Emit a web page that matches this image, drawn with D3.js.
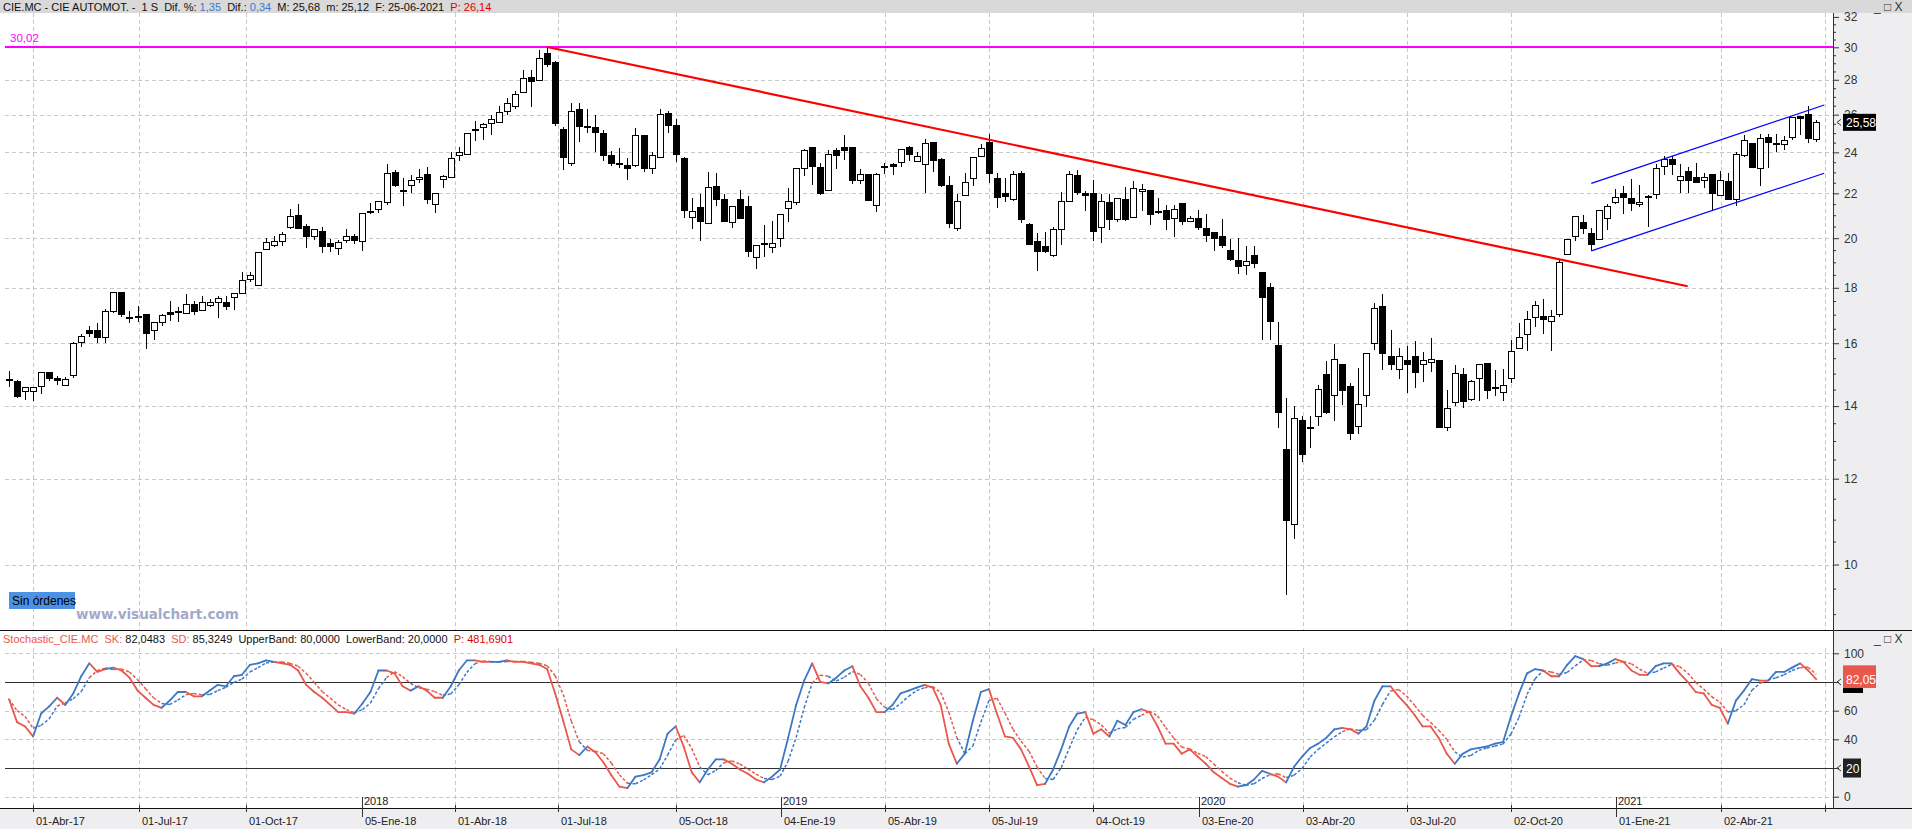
<!DOCTYPE html>
<html>
<head>
<meta charset="utf-8">
<script src="https://cdn.jsdelivr.net/npm/d3@7"></script>
<style>
  html, body { margin: 0; padding: 0; background: #fff; overflow: hidden; }
  svg { display: block; font-family: "Liberation Sans", Arial, sans-serif; }
</style>
</head>
<body>
<svg id="chart"></svg>
<script>
// weekly candles CIE.MC, 03-Mar-2017 .. 25-Jun-2021
var opens = [14.82,14.74,14.43,14.43,14.61,15.02,14.84,14.64,14.95,16.04,16.43,16.43,16.21,17.13,17.82,16.89,16.94,16.99,16.43,16.71,
  17.07,17.10,17.04,17.39,17.17,17.35,17.43,17.43,17.64,17.79,18.33,18.08,19.52,19.68,19.85,20.46,21.00,20.50,20.07,20.29,
  19.78,19.56,19.89,20.06,19.85,21.13,21.25,21.56,22.98,22.12,22.36,22.66,22.89,21.47,22.64,22.74,23.84,23.87,25.22,25.29,
  25.53,25.59,26.19,26.48,27.26,28.14,27.98,29.58,29.06,25.20,23.46,26.30,25.35,25.32,24.99,23.85,23.43,23.33,23.33,24.86,
  23.17,23.76,26.08,25.42,23.67,20.89,21.35,20.62,22.31,21.70,20.67,21.70,21.39,19.19,19.78,19.60,19.99,21.29,21.56,23.17,
  24.23,23.22,22.13,24.07,24.23,24.23,22.59,22.89,21.42,23.28,23.37,23.51,24.27,23.56,23.41,24.49,23.63,22.39,20.40,21.91,
  22.68,23.79,24.49,22.70,21.97,21.73,22.94,20.59,19.85,19.65,19.26,20.36,21.64,22.85,21.97,21.97,20.45,21.57,20.80,21.70,
  20.89,22.10,22.15,21.17,21.22,20.84,21.53,20.71,20.86,20.41,20.24,20.06,19.49,19.08,18.87,19.28,18.59,18.03,15.92,12.76,
  10.89,13.59,13.39,13.70,14.96,14.32,15.28,14.58,13.42,14.32,16.00,17.31,15.57,15.14,15.44,15.57,15.30,15.36,15.44,13.39,
  14.10,14.96,14.19,14.86,15.32,14.55,14.41,14.86,15.81,16.29,16.89,16.93,16.75,16.99,19.31,20.07,20.67,20.22,19.96,20.84,
  21.56,22.00,21.78,21.47,21.83,21.96,23.27,23.66,22.59,23.02,22.73,22.59,22.88,21.91,22.54,21.73,23.85,24.43,23.17,24.76,
  24.45,24.41,24.76,25.89,26.00,24.65];
var highs = [15.08,14.81,14.57,14.56,15.03,15.06,14.91,14.90,16.03,16.30,16.61,16.71,17.21,17.85,17.85,17.15,17.30,17.03,16.71,17.01,
  17.51,17.29,17.76,17.49,17.69,17.57,17.70,17.70,17.79,18.62,18.62,19.42,20.01,20.08,20.25,21.26,21.49,20.60,20.37,20.50,
  19.97,19.92,20.38,20.16,21.12,21.56,21.66,23.39,23.13,22.74,22.85,23.18,23.25,21.98,22.85,24.03,24.25,24.97,25.64,25.55,
  25.98,26.48,26.93,27.33,28.56,28.56,29.80,30.02,29.16,25.33,26.65,26.65,26.30,26.00,25.15,24.09,24.20,23.71,25.30,24.87,
  24.00,26.34,26.21,25.75,23.76,21.79,21.97,23.04,22.98,21.96,21.39,22.15,21.88,19.69,20.55,20.76,21.02,22.26,23.19,24.16,
  24.23,23.46,24.11,24.20,24.88,24.23,23.19,22.89,22.98,23.46,23.46,24.16,24.34,24.03,24.67,24.49,23.71,22.83,21.97,22.98,
  23.76,24.45,24.97,22.98,22.75,23.07,23.07,20.67,20.22,20.27,20.49,22.05,23.06,23.10,22.13,22.65,21.97,21.97,21.78,22.29,
  22.60,22.44,22.15,21.78,21.48,21.48,21.53,20.98,21.22,21.04,20.24,20.84,19.96,20.00,19.69,19.65,18.59,18.18,16.75,14.25,
  13.99,13.70,13.70,14.65,15.42,15.98,15.28,14.69,15.18,15.66,17.44,17.76,16.44,15.85,15.91,16.08,15.72,16.18,15.44,14.50,
  15.28,15.18,14.79,15.28,15.32,15.13,15.15,16.10,16.72,17.13,17.49,17.59,17.17,19.12,19.96,20.93,20.99,20.44,21.20,21.51,
  22.20,22.36,22.70,22.39,21.93,23.41,23.79,23.79,23.41,23.27,23.46,22.98,22.88,23.09,22.99,24.00,24.92,24.43,24.94,24.94,
  24.94,24.86,25.89,25.89,26.46,25.69];
var lows = [14.58,14.23,14.19,14.16,14.35,14.76,14.63,14.64,14.87,15.86,16.20,16.02,16.02,17.05,16.93,16.71,16.74,15.81,16.10,16.60,
  16.77,16.74,17.03,16.99,17.13,17.28,16.89,17.16,17.16,17.79,18.23,18.07,19.52,19.64,19.67,20.38,20.41,19.59,19.93,19.36,
  19.42,19.30,19.81,19.77,19.47,21.07,21.12,21.44,22.30,21.41,22.00,22.49,21.49,21.09,22.25,22.71,23.56,23.87,24.56,24.65,
  24.92,25.59,26.00,26.32,27.26,26.44,27.98,28.76,25.39,23.14,23.33,24.52,25.03,24.04,23.54,23.33,23.22,22.62,23.27,23.01,
  22.91,23.76,24.99,23.50,20.86,20.39,19.90,20.62,21.41,20.74,20.43,20.87,19.22,18.74,19.22,19.39,19.64,20.70,21.45,22.81,
  22.41,21.94,22.13,23.19,23.63,22.42,22.42,21.67,21.14,22.91,22.85,23.27,23.54,23.56,22.03,23.01,22.32,20.44,20.30,21.91,
  22.33,23.74,22.49,21.32,21.60,21.63,20.67,19.70,18.65,19.39,19.22,19.70,21.64,21.93,21.19,19.86,19.80,20.37,20.71,20.74,
  20.89,21.19,20.56,21.07,20.34,20.03,20.56,20.71,20.34,19.82,19.46,19.59,19.05,18.55,18.49,18.77,16.10,16.12,13.36,9.37,
  10.55,12.43,12.80,13.41,13.78,13.55,14.04,13.02,13.19,13.96,15.77,15.10,15.13,14.82,14.41,14.56,14.74,15.04,13.38,13.27,
  13.99,13.93,14.16,14.15,14.21,14.31,14.16,14.69,15.81,15.74,16.57,16.30,15.75,16.93,19.31,19.86,20.19,19.46,19.96,20.37,
  21.51,21.04,21.21,21.36,20.49,21.73,22.89,22.89,22.03,22.03,22.49,22.24,21.23,21.91,21.73,21.41,23.74,23.22,22.36,23.22,
  24.04,24.11,24.65,24.88,24.49,24.54];
var closes = [14.80,14.29,14.57,14.55,15.02,14.86,14.77,14.80,16.00,16.24,16.35,16.20,17.10,17.81,17.00,16.85,16.92,16.32,16.71,16.98,
  17.01,17.08,17.39,17.13,17.43,17.43,17.61,17.31,17.79,18.27,18.48,19.40,19.81,19.85,20.15,20.94,20.43,20.09,20.37,19.67,
  19.63,19.81,20.09,19.89,21.07,21.15,21.60,22.95,22.39,22.08,22.62,22.74,21.69,21.98,22.82,23.67,24.00,24.97,25.13,25.46,
  25.75,26.13,26.65,27.14,28.06,27.87,29.32,28.94,25.52,23.74,26.19,25.33,25.33,25.01,23.84,23.45,23.41,23.20,24.86,23.17,
  23.85,26.02,25.39,23.89,21.23,21.16,20.70,22.29,21.72,20.74,21.39,20.87,19.46,19.69,19.76,19.76,21.02,21.64,23.19,24.07,
  23.30,21.97,23.90,23.84,24.08,22.62,22.88,21.67,22.89,23.26,23.30,24.16,23.89,23.80,24.43,23.61,22.37,20.65,21.64,22.49,
  23.76,24.22,22.93,21.82,21.85,22.88,20.79,19.74,19.46,19.46,20.36,21.64,22.89,22.03,21.91,20.30,21.64,20.79,21.78,20.83,
  22.24,22.20,21.05,21.15,20.83,21.24,20.74,20.84,20.47,20.13,19.99,19.70,19.12,18.85,19.03,18.97,17.64,16.74,13.80,10.98,
  13.65,12.62,13.37,14.51,13.80,15.47,14.47,13.22,14.06,15.66,17.23,15.65,15.29,15.57,15.29,15.05,15.43,15.46,13.38,13.94,
  15.00,14.15,14.74,15.28,14.48,14.53,14.64,15.71,16.18,16.83,17.33,16.83,16.95,18.99,19.96,20.93,20.40,19.72,21.20,21.38,
  21.82,21.82,21.51,21.56,21.81,23.17,23.63,23.37,22.78,22.62,22.52,22.73,22.00,22.63,21.73,23.90,24.59,23.22,24.70,24.49,
  24.38,24.59,25.84,25.78,24.74,25.58];

// stochastic: SK solid, SD dashed
var skValues = [68,52,49,42,58,63,69,64,72,84,93,87,89,90,88,83,74,69,64,62,
  67,73,73,70,70,74,78,77,84,85,92,93,95,94,93,92,88,78,73,69,
  64,59,59,58,65,73,88,88,86,77,74,77,74,69,69,77,88,95,95,94,
  94,94,95,94,94,93,92,89,72,53,33,29,35,31,24,15,7,6,14,15,
  17,26,44,49,35,17,10,19,26,26,23,19,16,12,10,14,19,41,64,81,
  93,80,79,83,88,91,77,69,59,59,64,72,74,76,78,76,64,37,23,30,
  53,73,75,58,42,41,33,21,8,9,19,33,49,58,59,44,47,42,53,50,
  59,61,59,49,37,37,30,33,28,23,17,13,9,7,8,12,18,16,14,10,
  21,28,34,37,41,47,48,47,44,49,67,77,77,70,64,57,49,49,41,30,
  23,30,33,34,35,37,38,56,72,86,89,88,84,84,92,98,96,91,91,93,
  96,94,88,85,85,91,93,93,86,80,73,72,64,62,51,67,74,82,81,81,
  87,87,90,93,88,82.0483];
var sdValues = [68,60,56,47.7,49.7,54.3,63.3,65.3,68.3,73.3,83,88,89.7,88.7,89,87,81.7,75.3,69,65,
  64.3,67.3,71,72,71,71.3,74,76.3,79.7,82,87,90,93.3,94,94,93,91,86,79.7,73.3,
  68.7,64,60.7,58.7,60.7,65.3,75.3,83,87.3,83.7,79,76,75,73.3,70.7,71.7,78,86.7,92.7,94.7,
  94.3,94,94.3,94.3,94.3,93.7,93,91.3,84.3,71.3,52.7,38.3,32.3,31.7,30,23.3,15.3,9.3,9,11.7,
  15.3,19.3,29,39.7,42.7,33.7,20.7,15.3,18.3,23.7,25,22.7,19.3,15.7,12.7,12,14.3,24.7,41.3,62,
  79.3,84.7,84,80.7,83.3,87.3,85.3,79,68.3,62.3,60.7,65,70,74,76,76.7,72.7,59,41.3,30,
  35.3,52,67,68.7,58.3,47,38.7,31.7,20.7,12.7,12,20.3,33.7,46.7,55.3,53.7,50,44.3,47.3,48.3,
  54,56.7,59.7,56.3,48.3,41,34.7,33.3,30.3,28,22.7,17.7,13,9.7,8,9,12.7,15.3,16,13.3,
  15,19.7,27.7,33,37.3,41.7,45.3,47.3,46.3,46.7,53.3,64.3,73.7,74.7,70.3,63.7,56.7,51.7,46.3,40,
  31.3,27.7,28.7,32.3,34,35.3,36.7,43.7,55.3,71.3,82.3,87.7,87,85.3,86.7,91.3,95.3,95,92.7,91.7,
  93.3,94.3,92.7,89,86,87,89.7,92.3,90.7,86.3,79.7,75,69.7,66,59,60,64,74.3,79,81.3,
  83,85,88,90,90.3,85.3249];

var priceTicks = [10,12,14,16,18,20,22,24,26,28,30,32];
var stochTicks = [0,20,40,60,80,100];
var dateLabels = ["01-Abr-17","01-Jul-17","01-Oct-17","05-Ene-18","01-Abr-18","01-Jul-18","05-Oct-18","04-Ene-19","05-Abr-19",
  "05-Jul-19","04-Oct-19","03-Ene-20","03-Abr-20","03-Jul-20","02-Oct-20","01-Ene-21","02-Abr-21",""];
var dateIdx = [2.93,16.19,29.46,43.95,55.47,68.34,83.1,96.09,109.1,122,135,148.1,161.1,174,187,200.1,213.1,226.1];
var yearLabels = ["2018","2019","2020","2021"];
var yearIdx = [43.95,96.09,148.1,200.1];

// drawn studies: [bar index, price]
var maxLevel = 30.02;
var trendLine = [[67, 30.02], [209, 18.06]];
var channelTop = [[197, 22.47], [226, 26.54]];
var channelBottom = [[197, 19.47], [226, 22.96]];
var lastClose = 25.58;

var Chart = (function(){
  var width = 1912,
      height = 829,
      axisX = 1833,
      svg,
      x, yP, yS
    ;

  function fmt(v, n){
    return v.toFixed(n).replace('.', ',');
  }

  function hLines(g, scale, values, x0, x1, cls){
    g.selectAll('line.' + cls)
      .data(values)
      .enter()
        .append('line')
        .attr('class', cls)
        .attr('x1', x0).attr('x2', x1)
        .attr('y1', function(d){ return Math.round(scale(d)) + 0.5; })
        .attr('y2', function(d){ return Math.round(scale(d)) + 0.5; });
  }

  // little "<" marker just right of the axis line
  function arrow(g, yy){
    g.append('path')
      .attr('d', 'M' + (axisX + 8) + ',' + (yy - 3) + 'L' + (axisX + 4) + ',' + yy + 'L' + (axisX + 8) + ',' + (yy + 3))
      .attr('stroke', '#333').attr('fill', 'none');
  }

  function label(g, xx, yy, w, h, bg, txt){
    g.append('rect')
      .attr('x', xx).attr('y', yy - h / 2)
      .attr('width', w).attr('height', h)
      .attr('fill', bg);
    if (txt) {
      g.append('text')
        .attr('x', xx + 3).attr('y', yy + 4.5)
        .attr('fill', '#fff')
        .attr('font-size', 12)
        .text(txt);
    }
  }

  return {
    initialize: function(_canvas){
      svg = d3.select(_canvas);
      svg.attr('width', width).attr('height', height);

      x = d3.scaleLinear().domain([0, 225]).range([9, 9 + 225 * 8.032]);
      yP = d3.scaleLog().domain([10, 30]).range([564.5, 47.3]);
      yS = d3.scaleLinear().domain([0, 100]).range([796.7, 653.3]);
    },
    frame: function(){
      // backgrounds
      svg.append('rect').attr('width', width).attr('height', height).attr('fill', '#fff');
      svg.append('rect').attr('x', axisX).attr('y', 0).attr('width', width - axisX).attr('height', height).attr('fill', '#eeeef1');
      svg.append('rect').attr('x', 0).attr('y', 809).attr('width', width).attr('height', 20).attr('fill', '#eeeef1');
      svg.append('rect').attr('x', 0).attr('y', 0).attr('width', width).attr('height', 13).attr('fill', '#d9d9d9');

      var grid = svg.append('g')
        .attr('stroke', '#c8c8c8')
        .attr('stroke-dasharray', '4,3')
        .attr('shape-rendering', 'crispEdges');

      hLines(grid, yP, priceTicks.filter(function(d){ return d < 32; }), 5, axisX, 'pg');
      hLines(grid, yS, [0, 40, 60, 100], 5, axisX, 'sg');

      var vIdx = dateIdx.filter(function(d){ return yearIdx.indexOf(d) < 0; });
      [[13, 630], [648, 808]].forEach(function(r){
        grid.append('g').selectAll('line')
          .data(vIdx)
          .enter()
            .append('line')
            .attr('x1', function(d){ return Math.round(x(d)) + 0.5; })
            .attr('x2', function(d){ return Math.round(x(d)) + 0.5; })
            .attr('y1', r[0]).attr('y2', r[1]);
      });

      // stochastic bands
      var bands = svg.append('g').attr('stroke', '#303030').attr('stroke-width', 1.2);
      hLines(bands, yS, [20, 80], 5, axisX, 'band');

      // panel separators
      svg.append('g').attr('stroke', '#111').attr('shape-rendering', 'crispEdges')
        .selectAll('line')
        .data([630.5, 808.5])
        .enter()
          .append('line')
          .attr('x1', 0).attr('x2', width)
          .attr('y1', function(d){ return d; }).attr('y2', function(d){ return d; });
    },
    candles: function(){
      var g = svg.append('g').attr('shape-rendering', 'crispEdges');
      var idx = d3.range(closes.length);

      g.selectAll('line.wick')
        .data(idx)
        .enter()
          .append('line')
          .attr('class', 'wick')
          .attr('stroke', '#000')
          .attr('x1', function(i){ return Math.round(x(i)) + 0.5; })
          .attr('x2', function(i){ return Math.round(x(i)) + 0.5; })
          .attr('y1', function(i){ return yP(highs[i]); })
          .attr('y2', function(i){ return yP(lows[i]); });

      g.selectAll('rect.body')
        .data(idx)
        .enter()
          .append('rect')
          .attr('class', 'body')
          .attr('x', function(i){ return Math.round(x(i)) - 2.5; })
          .attr('width', 6)
          .attr('y', function(i){ return yP(Math.max(opens[i], closes[i])); })
          .attr('height', function(i){
            return Math.max(1, yP(Math.min(opens[i], closes[i])) - yP(Math.max(opens[i], closes[i])));
          })
          .attr('fill', function(i){ return closes[i] >= opens[i] ? '#fff' : '#000'; })
          .attr('stroke', '#000')
          .attr('stroke-width', 1);
    },
    studies: function(){
      svg.append('line')
        .attr('x1', 5).attr('x2', axisX)
        .attr('y1', yP(maxLevel)).attr('y2', yP(maxLevel))
        .attr('stroke', '#ff00ff').attr('stroke-width', 2);
      svg.append('text')
        .attr('x', 10).attr('y', yP(maxLevel) - 5)
        .attr('fill', '#ff00ff').attr('font-size', 11.5)
        .text(fmt(maxLevel, 2));

      var line = d3.line()
        .x(function(d){ return x(d[0]); })
        .y(function(d){ return yP(d[1]); });

      svg.append('path').attr('d', line(trendLine))
        .attr('stroke', '#ff0000').attr('stroke-width', 2.2).attr('fill', 'none');
      [channelTop, channelBottom].forEach(function(c){
        svg.append('path').attr('d', line(c))
          .attr('stroke', '#0000ff').attr('stroke-width', 1.2).attr('fill', 'none');
      });
    },
    stochastic: function(){
      var g = svg.append('g').attr('fill', 'none');
      var segs = d3.range(1, skValues.length);
      function color(i){ return skValues[i] >= sdValues[i] ? '#3d78c4' : '#e8584c'; }

      g.selectAll('line.sd')
        .data(segs)
        .enter()
          .append('line')
          .attr('class', 'sd')
          .attr('x1', function(i){ return x(i - 1); }).attr('x2', function(i){ return x(i); })
          .attr('y1', function(i){ return yS(sdValues[i - 1]); }).attr('y2', function(i){ return yS(sdValues[i]); })
          .attr('stroke', color)
          .attr('stroke-width', 1.5)
          .attr('stroke-dasharray', '3,2');

      g.selectAll('line.sk')
        .data(segs)
        .enter()
          .append('line')
          .attr('class', 'sk')
          .attr('x1', function(i){ return x(i - 1); }).attr('x2', function(i){ return x(i); })
          .attr('y1', function(i){ return yS(skValues[i - 1]); }).attr('y2', function(i){ return yS(skValues[i]); })
          .attr('stroke', color)
          .attr('stroke-width', 1.8)
          .attr('stroke-linecap', 'round');
    },
    axes: function(){
      var minor = d3.range(9, 32.01, 0.5).filter(function(d){ return priceTicks.indexOf(d) < 0; });

      svg.append('g').attr('transform', 'translate(' + axisX + ',0)')
        .call(d3.axisRight(yP).tickValues(priceTicks).tickFormat(d3.format('d')).tickSize(6).tickPadding(5));
      svg.append('g').attr('transform', 'translate(' + axisX + ',0)')
        .call(d3.axisRight(yP).tickValues(minor).tickFormat('').tickSize(3));
      // the 80 label sits under the SK/SD flags, so it is not written
      svg.append('g').attr('transform', 'translate(' + axisX + ',0)')
        .call(d3.axisRight(yS).tickValues(stochTicks)
          .tickFormat(function(d){ return d === 80 ? '' : d; })
          .tickSize(6).tickPadding(5));

      svg.selectAll('.domain').remove();
      svg.selectAll('.tick line').attr('stroke', '#333');
      svg.selectAll('.tick text')
        .attr('fill', '#333')
        .attr('font-size', 12)
        .attr('font-family', '"Liberation Sans", Arial, sans-serif');

      svg.append('line')
        .attr('x1', axisX + 0.5).attr('x2', axisX + 0.5)
        .attr('y1', 13).attr('y2', 809)
        .attr('stroke', '#333');

      // value flags
      var flags = svg.append('g').attr('font-family', '"Liberation Sans", Arial, sans-serif');
      label(flags, axisX + 10, yP(lastClose), 33, 17, '#000', fmt(lastClose, 2));
      label(flags, axisX + 10, yS(80) + 1, 20, 20, '#000', '');
      label(flags, axisX + 10, yS(20), 18, 19, '#222', '20');
      label(flags, axisX + 10, yS(sdValues[sdValues.length - 1]), 33, 18, '#e8584c', '');
      label(flags, axisX + 10, yS(skValues[skValues.length - 1]), 33, 18, '#e8584c', fmt(skValues[skValues.length - 1], 2));
      arrow(flags, yP(lastClose));
      arrow(flags, yS(80));
      arrow(flags, yS(20));

      // date axis
      var da = svg.append('g')
        .attr('font-family', '"Liberation Sans", Arial, sans-serif')
        .attr('font-size', 11)
        .attr('fill', '#222');
      da.selectAll('line.dt')
        .data(dateIdx)
        .enter()
          .append('line')
          .attr('class', 'dt')
          .attr('x1', function(d){ return Math.round(x(d)) + 0.5; })
          .attr('x2', function(d){ return Math.round(x(d)) + 0.5; })
          .attr('y1', 805).attr('y2', 812)
          .attr('stroke', '#333');
      da.selectAll('text.dt')
        .data(dateIdx)
        .enter()
          .append('text')
          .attr('class', 'dt')
          .attr('x', function(d){ return Math.round(x(d)) + 3; })
          .attr('y', 825)
          .text(function(d, i){ return dateLabels[i]; });
      da.selectAll('line.yr')
        .data(yearIdx)
        .enter()
          .append('line')
          .attr('class', 'yr')
          .attr('x1', function(d){ return Math.round(x(d)) + 0.5; })
          .attr('x2', function(d){ return Math.round(x(d)) + 0.5; })
          .attr('y1', 797).attr('y2', 817)
          .attr('stroke', '#333');
      da.selectAll('text.yr')
        .data(yearIdx)
        .enter()
          .append('text')
          .attr('class', 'yr')
          .attr('x', function(d){ return Math.round(x(d)) + 2; })
          .attr('y', 805)
          .text(function(d, i){ return yearLabels[i]; });
    },
    titles: function(){
      var head = svg.append('text').attr('x', 3).attr('y', 10.5).attr('font-size', 11);
      [['CIE.MC - CIE AUTOMOT. -  1 S  Dif. %: ', '#111'], ['1,35', '#3a7ad0'], ['  Dif.: ', '#111'], ['0,34', '#3a7ad0'],
       ['  M: 25,68  m: 25,12  F: 25-06-2021  ', '#111'], ['P: 26,14', '#e00000']].forEach(function(p){
        head.append('tspan').attr('fill', p[1]).attr('xml:space', 'preserve').text(p[0]);
      });

      var st = svg.append('text').attr('x', 3).attr('y', 643).attr('font-size', 11);
      [['Stochastic_CIE.MC  SK: ', '#e8584c'], [fmt(skValues[skValues.length - 1], 4) + '  ', '#111'], ['SD: ', '#e8584c'],
       [fmt(sdValues[sdValues.length - 1], 4) + '  UpperBand: 80,0000  LowerBand: 20,0000  ', '#111'], ['P: 481,6901', '#e00000']].forEach(function(p){
        st.append('tspan').attr('fill', p[1]).attr('xml:space', 'preserve').text(p[0]);
      });

      [[11, 13], [643, 645]].forEach(function(b){
        svg.append('text').attr('x', 1874).attr('y', b[0]).attr('font-size', 12).attr('fill', '#333')
          .attr('xml:space', 'preserve').text('_ \u25A1 X');
      });

      svg.append('rect').attr('x', 9).attr('y', 592).attr('width', 66).attr('height', 17).attr('fill', '#4b92e6');
      svg.append('text').attr('x', 12).attr('y', 605).attr('font-size', 12).attr('fill', '#000').text('Sin órdenes');

      svg.append('text').attr('x', 76).attr('y', 619)
        .attr('font-family', '"DejaVu Sans", Verdana, sans-serif')
        .attr('font-weight', 'bold').attr('font-size', 13.5)
        .attr('fill', '#a3a9c9')
        .text('www.visualchart.com');
    }
  }
})();

Chart.initialize('#chart');
Chart.frame();
Chart.stochastic();
Chart.candles();
Chart.studies();
Chart.axes();
Chart.titles();
</script>
</body>
</html>
